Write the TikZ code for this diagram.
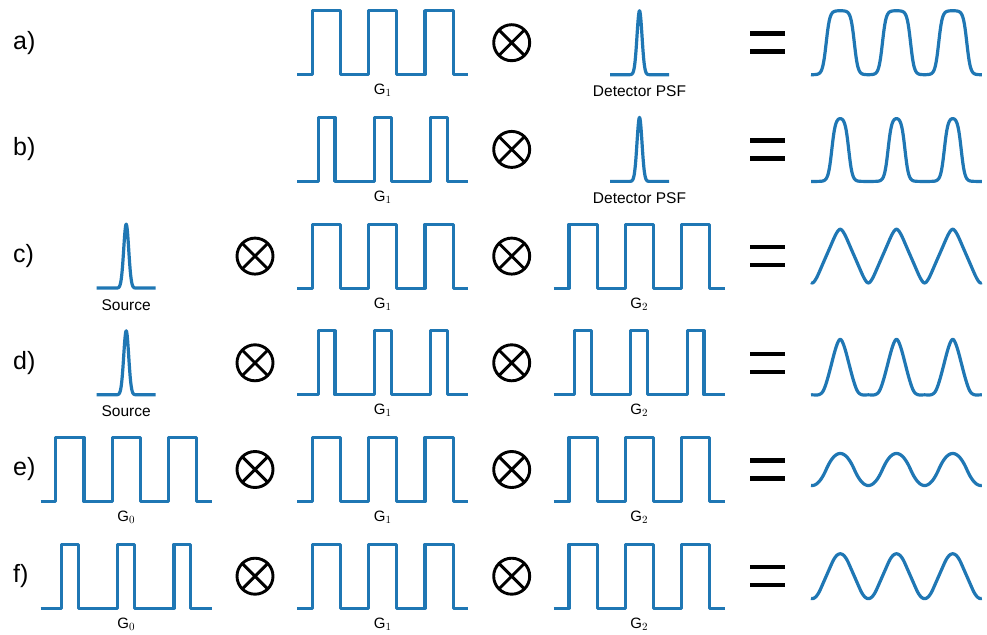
\documentclass[tikz,border=0pt]{standalone}
\usepackage[no-math]{fontspec}
\setmainfont{Liberation Sans}
\definecolor{wblue}{HTML}{1F77B4}

% sharp grating profile: name, centre x, baseline y, duty cycle, label
\newcommand\gratingpanel[5]{%
  \begin{scope}[shift={(#2,#3)},x=56.25pt,y=64pt]
    \draw[wave] (-1.52,0) \foreach \c in {-1,0,1}{ -- ({\c-#4/2},0) -- ({\c-#4/2},1) -- ({\c+#4/2},1) -- ({\c+#4/2},0)} -- (1.52,0);
  \end{scope}
  \node[glabel] (#1) at (#2,#3+20) {#5};}

% narrow Gaussian peak: name, centre x, baseline y, label
\newcommand\peakpanel[4]{%
  \begin{scope}[shift={(#2,#3)},x=1pt,y=1pt]
    \draw[wave] plot[domain=-29.5:29.5,samples=119,variable=\va] (\va,{64*gss(\va)});
  \end{scope}
  \node[tlabel] (#1) at (#2,#3+22) {#4};}

% convolved intensity profile: centre x, baseline y, expression in \va
\newcommand\resultpanel[3]{%
  \begin{scope}[shift={(#1,#2)},x=56.25pt,y=64pt]
    \draw[wave] plot[domain=-1.52:1.52,samples=244,variable=\va] (\va,{#3});
  \end{scope}}

% equals sign: centre x, centre y
\newcommand\equalsign[2]{%
  \draw[eqbar] (#1-17.5,#2-9) -- (#1+17.5,#2-9) (#1-17.5,#2+9) -- (#1+17.5,#2+9);}

\begin{document}
\begin{tikzpicture}[x=1pt,y=-1pt,
  wave/.style={draw=wblue,line width=3.2pt,line join=round},
  otimes/.style={circle,draw=black,line width=2.9pt,minimum size=36pt,inner sep=0pt,
    path picture={\draw[line width=2.9pt]
      (path picture bounding box.north west) -- (path picture bounding box.south east)
      (path picture bounding box.north east) -- (path picture bounding box.south west);}},
  rowlabel/.style={anchor=west,inner sep=0pt,font=\fontsize{25}{30}\selectfont},
  glabel/.style={anchor=base,inner sep=0pt,font=\fontsize{15}{18}\selectfont},
  tlabel/.style={anchor=base,inner sep=0pt,font=\fontsize{15.5}{18}\selectfont},
  eqbar/.style={draw=black,line width=4.5pt},
  declare function={
    clampt(\pa)=max(-4,min(4,\pa));
    cdf(\pa)=0.5*(1+tanh(clampt(0.851*\pa)));
    fr(\pa)=\pa-round(\pa);
    sqs(\pa,\pb,\pc)=cdf((fr(\pa)+\pb/2)/\pc)-cdf((fr(\pa)-\pb/2)/\pc);
    kex(\pa,\pb)=\pa*tanh(clampt(0.851*\pa/\pb))+0.7979*\pb*exp(max(-9,-\pa*\pa/(2*\pb*\pb)))-abs(\pa);
    trc(\pa)=1-2*abs(fr(\pa))-2*kex(fr(\pa),0.05)+2*kex(fr(\pa+0.5),0.05);
    trd(\pa)=max(0,1-abs(fr(\pa))/0.3)-kex(fr(\pa),0.05)/0.3+(kex(fr(\pa)-0.3,0.05)+kex(fr(\pa)+0.3,0.05))/0.6;
    pare(\pa)=(abs(fr(\pa))<0.25) ? (0.75-4*fr(\pa)*fr(\pa)) : (0.25+4*(0.5-abs(fr(\pa)))*(0.5-abs(fr(\pa))));
    parf(\pa)=(abs(fr(\pa))<0.15) ? (1-(0.0225+fr(\pa)*fr(\pa))/0.15) : ((abs(fr(\pa))>0.35) ? ((0.0225+(0.5-abs(fr(\pa)))*(0.5-abs(fr(\pa))))/0.15) : (1-2*abs(fr(\pa))));
    gss(\pa)=exp(max(-9,-\pa*\pa/12.5));
  }]
\fill[white] (0,0) rectangle (987,634);
\useasboundingbox (0,0) rectangle (987,634);

% a) G1 with detector PSF
\node[rowlabel] (la) at (13,42.7) {a)};
\gratingpanel{ga1}{382.8}{74.7}{0.5}{G$_1$}
\node[otimes] (oa2) at (511.7,42.7) {};
\peakpanel{psfa}{639.5}{74.7}{Detector PSF}
\equalsign{767.5}{42.7}
\resultpanel{896.5}{74.7}{sqs(\va,0.5,0.055)}

% b) narrow G1 with detector PSF
\node[rowlabel] (lb) at (13,149.4) {b)};
\gratingpanel{gb1}{382.8}{181.4}{0.3}{G$_1$}
\node[otimes] (ob2) at (511.7,149.4) {};
\peakpanel{psfb}{639.5}{181.4}{Detector PSF}
\equalsign{767.5}{149.4}
\resultpanel{896.5}{181.4}{sqs(\va,0.3,0.055)}

% c) source, G1, G2
\node[rowlabel] (lc) at (13,256.1) {c)};
\peakpanel{srcc}{126.2}{288.1}{Source}
\node[otimes] (oc1) at (255,256.1) {};
\gratingpanel{gc1}{382.8}{288.1}{0.5}{G$_1$}
\node[otimes] (oc2) at (511.7,256.1) {};
\gratingpanel{gc2}{639.3}{288.1}{0.5}{G$_2$}
\equalsign{767.5}{256.1}
\resultpanel{896.5}{288.1}{trc(\va)}

% d) source, narrow G1, narrow G2
\node[rowlabel] (ld) at (13,362.8) {d)};
\peakpanel{srcd}{126.2}{394.8}{Source}
\node[otimes] (od1) at (255,362.8) {};
\gratingpanel{gd1}{382.8}{394.8}{0.3}{G$_1$}
\node[otimes] (od2) at (511.7,362.8) {};
\gratingpanel{gd2}{639.3}{394.8}{0.3}{G$_2$}
\equalsign{767.5}{362.8}
\resultpanel{896.5}{394.8}{trd(\va)}

% e) G0, G1, G2
\node[rowlabel] (le) at (13,469.5) {e)};
\gratingpanel{ge0}{126.2}{501.5}{0.5}{G$_0$}
\node[otimes] (oe1) at (255,469.5) {};
\gratingpanel{ge1}{382.8}{501.5}{0.5}{G$_1$}
\node[otimes] (oe2) at (511.7,469.5) {};
\gratingpanel{ge2}{639.3}{501.5}{0.5}{G$_2$}
\equalsign{767.5}{469.5}
\resultpanel{896.5}{501.5}{pare(\va)}

% f) narrow G0, G1, G2
\node[rowlabel] (lf) at (13,576.2) {f)};
\gratingpanel{gf0}{126.2}{608.2}{0.3}{G$_0$}
\node[otimes] (of1) at (255,576.2) {};
\gratingpanel{gf1}{382.8}{608.2}{0.5}{G$_1$}
\node[otimes] (of2) at (511.7,576.2) {};
\gratingpanel{gf2}{639.3}{608.2}{0.5}{G$_2$}
\equalsign{767.5}{576.2}
\resultpanel{896.5}{608.2}{parf(\va)}
\end{tikzpicture}
\end{document}
